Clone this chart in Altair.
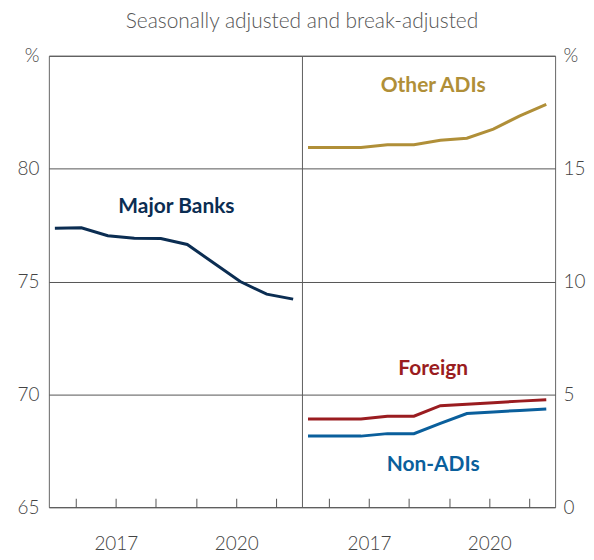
import altair as alt
import pandas as pd

# ---- data ----
dates = [2015.48, 2016.14, 2016.80, 2017.46, 2018.12, 2018.78, 2019.44, 2020.10, 2020.76, 2021.42]
major_banks = [77.36, 77.38, 77.03, 76.92, 76.90, 76.64, 75.82, 75.00, 74.44, 74.22]
other_adis = [15.94, 15.94, 15.94, 16.06, 16.06, 16.26, 16.35, 16.75, 17.34, 17.85]
foreign = [3.91, 3.91, 3.91, 4.03, 4.03, 4.50, 4.56, 4.63, 4.70, 4.76]
non_adis = [3.15, 3.15, 3.15, 3.26, 3.26, 3.71, 4.15, 4.22, 4.29, 4.35]

year_ticks = [2016, 2017, 2018, 2019, 2020, 2021]
left_ticks = [65, 70, 75, 80, 85]
right_ticks = [0, 5, 10, 15, 20]

series_names = ["Major Banks", "Other ADIs", "Foreign", "Non-ADIs"]
series_colors = ["#0b2d52", "#b08f38", "#9a1c20", "#0a5f9c"]

# label anchors (data units)
left_label_names = ["Major Banks"]
left_label_x = [2018.51]
left_label_y = [78.32]
right_label_names = ["Other ADIs", "Foreign", "Non-ADIs"]
right_label_x = [2018.6, 2018.6, 2018.6]
right_label_y = [18.66, 6.13, 1.85]

FONT = "Lato"
W, H = 254, 453
XDOM = [2015.33, 2021.64]
TICK_FS = 19

left_df = pd.DataFrame({"date": dates, "value": major_banks, "series": "Major Banks"})
right_df = pd.concat([
    pd.DataFrame({"date": dates, "value": other_adis, "series": "Other ADIs"}),
    pd.DataFrame({"date": dates, "value": foreign, "series": "Foreign"}),
    pd.DataFrame({"date": dates, "value": non_adis, "series": "Non-ADIs"}),
])
left_lab = pd.DataFrame({"date": left_label_x, "value": left_label_y, "series": left_label_names})
right_lab = pd.DataFrame({"date": right_label_x, "value": right_label_y, "series": right_label_names})

color = alt.Color("series:N", scale=alt.Scale(domain=series_names, range=series_colors), legend=None)

xaxis = alt.Axis(values=year_ticks, format="d",
                 labelExpr="(datum.value == 2017 || datum.value == 2020) ? datum.label : ''",
                 tickSize=9, offset=-9, domain=False, grid=False, labelPadding=27,
                 tickColor="#555", labelFontSize=TICK_FS, labelColor="#444", labelFont=FONT,
                 labelFontWeight=300)
x = alt.X("date:Q", scale=alt.Scale(domain=XDOM, nice=False, zero=False), axis=xaxis, title=None)


def yaxis(orient, values, top, pad):
    return alt.Axis(orient=orient, values=values,
                    labelExpr=f"datum.value == {top} ? '%' : datum.label",
                    ticks=False, domain=False, grid=True, gridColor="#555", gridWidth=1,
                    labelPadding=pad, labelFontSize=TICK_FS, labelColor="#444", labelFont=FONT,
                    labelFontWeight=300)


yl = alt.Y("value:Q", scale=alt.Scale(domain=[65, 85], nice=False, zero=False),
           axis=yaxis("left", left_ticks, 85, 10), title=None)
yr = alt.Y("value:Q", scale=alt.Scale(domain=[0, 20], nice=False, zero=False),
           axis=yaxis("right", right_ticks, 20, 8), title=None)

left = alt.layer(
    alt.Chart(left_df).mark_line(strokeWidth=3).encode(x=x, y=yl, color=color),
    alt.Chart(left_lab).mark_text(fontSize=21, fontWeight="bold", font=FONT).encode(
        x=x, y=yl, text="series:N", color=color),
).properties(width=W, height=H)

right = alt.layer(
    alt.Chart(right_df).mark_line(strokeWidth=3).encode(x=x, y=yr, color=color, detail="series:N"),
    alt.Chart(right_lab).mark_text(fontSize=21, fontWeight="bold", font=FONT).encode(
        x=x, y=yr, text="series:N", color=color),
).properties(width=W, height=H)

chart = alt.hconcat(left, right, spacing=0, bounds="flush").properties(
    title=alt.Title("Seasonally adjusted and break-adjusted", fontSize=21, color="#555",
                    fontWeight=300, font=FONT, anchor="middle", frame="group", dx=W, offset=14),
    padding={"left": 8, "top": 2, "right": 0, "bottom": 0},
).configure_view(stroke="#666", strokeWidth=1)

chart.save("out.html", embed_options={"renderer": "svg", "actions": False})
